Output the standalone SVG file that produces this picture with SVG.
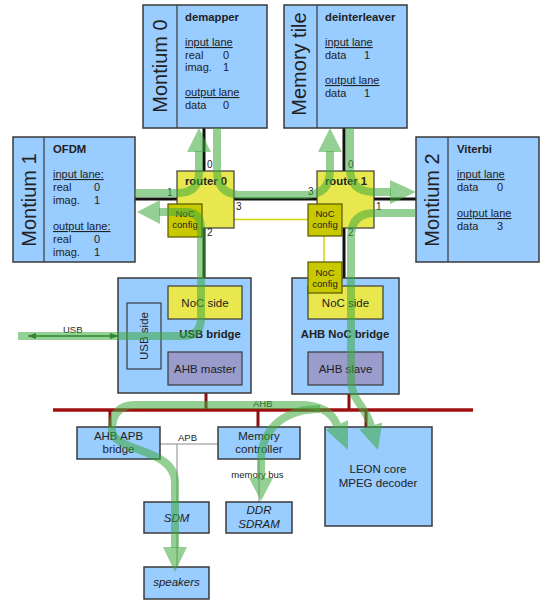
<svg xmlns="http://www.w3.org/2000/svg" width="550" height="607" viewBox="0 0 550 607">
<style>
.box{fill:#99ccff;stroke:#3a3a3a;stroke-width:1.5}
.div{stroke:#3a3a3a;stroke-width:1.2}
.yel{fill:#e8e84e;stroke:#3a3a3a;stroke-width:1.2}
.cfg{fill:#c9c900;stroke:#555500;stroke-width:1.2}
.ahb{fill:#9a9ccc;stroke:#3a3a3a;stroke-width:1.2}
.usbs{fill:none;stroke:#3a3a3a;stroke-width:1.2}
text{font-family:"Liberation Sans",Arial,sans-serif;fill:#222}
.big{font-size:20px;text-anchor:middle}
.h{font-size:11.3px;font-weight:bold}
.t{font-size:11px}
.u{text-decoration:underline}
.m{font-size:11.5px;text-anchor:middle}
.s{font-size:9.5px}
.p{font-size:10px}
.c{text-anchor:middle}
.i{font-style:italic}
.noc{stroke:#111;stroke-width:3;fill:none}
.bus{stroke:#a01010;stroke-width:3.5;fill:none}
.stub{stroke:#8a1010;stroke-width:3;fill:none}
.thin{stroke:#8a8a8a;stroke-width:1;fill:none}
.cfgl{stroke:#d4d400;stroke-width:1.5;fill:none}
.usb{stroke:#1f5a1f;stroke-width:1.5;fill:none}
.flow{fill:none;stroke:#3caa3c;stroke-opacity:0.55;stroke-width:8}
.head{fill:#3caa3c;fill-opacity:0.55}
</style>
<defs>
<marker id="ua" viewBox="0 0 10 10" refX="10" refY="5" markerWidth="8" markerHeight="6" markerUnits="userSpaceOnUse" orient="auto-start-reverse" preserveAspectRatio="none">
<path d="M0,0 L10,5 L0,10 z" fill="#1f5a1f"/>
</marker>
</defs>

<g id="connectors">
<line class="noc" x1="204" y1="128" x2="204" y2="171"/>
<line class="noc" x1="204" y1="228" x2="204" y2="286"/>
<line class="noc" x1="344" y1="128" x2="344" y2="171"/>
<line class="noc" x1="344" y1="228" x2="344" y2="286"/>
<line class="noc" x1="135" y1="199" x2="177" y2="199"/>
<line class="noc" x1="234" y1="199" x2="317" y2="199"/>
<line class="noc" x1="374" y1="199" x2="416" y2="199"/>
<line class="cfgl" x1="202" y1="219.5" x2="308" y2="219.5"/>
<line class="cfgl" x1="324" y1="236" x2="324" y2="262"/>
<line class="bus" x1="53" y1="410" x2="473" y2="410"/>
<line class="stub" x1="206" y1="393" x2="206" y2="410"/>
<line class="stub" x1="349" y1="394" x2="349" y2="410"/>
<line class="stub" x1="110" y1="410" x2="110" y2="427"/>
<line class="stub" x1="258" y1="410" x2="258" y2="427"/>
<line class="stub" x1="366" y1="410" x2="366" y2="427"/>
<text class="s" x="253" y="407">AHB</text>
<polyline class="thin" points="160,444 218,444"/>
<line class="thin" x1="177" y1="444" x2="177" y2="502"/>
<line class="thin" x1="177" y1="533" x2="177" y2="567" stroke="#555"/>
<text class="s" x="178" y="441">APB</text>
<line class="thin" x1="259" y1="459" x2="259" y2="502" stroke="#666"/>
<text class="s c" x="257.5" y="478">memory bus</text>
<line class="usb" x1="28" y1="336" x2="118" y2="336" marker-start="url(#ua)" marker-end="url(#ua)"/>
<text class="s" x="63" y="333">USB</text>
</g>

<g id="montium0">
<rect class="box" x="143" y="5" width="124" height="123"/>
<line class="div" x1="177" y1="5" x2="177" y2="128"/>
<text class="big" transform="translate(167,66) rotate(-90)">Montium 0</text>
<text class="h" x="185" y="21">demapper</text>
<text class="t u" x="185" y="46">input lane</text>
<text class="t" x="185" y="58.5">real</text><text class="t" x="223" y="58.5">0</text>
<text class="t" x="185" y="71">imag.</text><text class="t" x="223" y="71">1</text>
<text class="t u" x="185" y="96">output lane</text>
<text class="t" x="185" y="108.5">data</text><text class="t" x="223" y="108.5">0</text>
</g>

<g id="memorytile">
<rect class="box" x="284" y="5" width="123" height="123"/>
<line class="div" x1="317" y1="5" x2="317" y2="128"/>
<text class="big" transform="translate(306,64) rotate(-90)">Memory tile</text>
<text class="h" x="325" y="21">deinterleaver</text>
<text class="t u" x="325" y="46">input lane</text>
<text class="t" x="325" y="58.5">data</text><text class="t" x="364" y="58.5">1</text>
<text class="t u" x="325" y="84">output lane</text>
<text class="t" x="325" y="96.5">data</text><text class="t" x="364" y="96.5">1</text>
</g>

<g id="montium1">
<rect class="box" x="13" y="137" width="122" height="125"/>
<line class="div" x1="44" y1="137" x2="44" y2="262"/>
<text class="big" transform="translate(36,200) rotate(-90)">Montium 1</text>
<text class="h" x="53" y="152.5">OFDM</text>
<text class="t u" x="53" y="178">input lane:</text>
<text class="t" x="53" y="191">real</text><text class="t" x="94" y="191">0</text>
<text class="t" x="53" y="204">imag.</text><text class="t" x="94" y="204">1</text>
<text class="t u" x="53" y="230">output lane:</text>
<text class="t" x="53" y="243">real</text><text class="t" x="94" y="243">0</text>
<text class="t" x="53" y="256">imag.</text><text class="t" x="94" y="256">1</text>
</g>

<g id="montium2">
<rect class="box" x="416" y="137" width="123" height="125"/>
<line class="div" x1="448" y1="137" x2="448" y2="262"/>
<text class="big" transform="translate(439,200) rotate(-90)">Montium 2</text>
<text class="h" x="457" y="152.5">Viterbi</text>
<text class="t u" x="457" y="178">input lane</text>
<text class="t" x="457" y="191">data</text><text class="t" x="497" y="191">0</text>
<text class="t u" x="457" y="217">output lane</text>
<text class="t" x="457" y="230">data</text><text class="t" x="497" y="230">3</text>
</g>

<g id="router0">
<rect class="yel" x="177" y="171" width="57" height="57"/>
<text class="h c" x="206" y="185">router 0</text>
<text class="p" x="207" y="168">0</text>
<text class="p" x="167" y="195.5">1</text>
<text class="p" x="236" y="210">3</text>
<text class="p" x="207" y="236">2</text>
</g>
<g id="noccfg0">
<rect class="cfg" x="168" y="204" width="34" height="33"/>
<text class="s c" x="185" y="217">NoC</text>
<text class="s c" x="185" y="228">config</text>
</g>

<g id="router1">
<rect class="yel" x="317" y="171" width="57" height="57"/>
<text class="h c" x="346" y="185">router 1</text>
<text class="p" x="348" y="168">0</text>
<text class="p" x="308" y="195">3</text>
<text class="p" x="376" y="210">1</text>
<text class="p" x="348" y="236">2</text>
</g>
<g id="noccfg1">
<rect class="cfg" x="308" y="204" width="34" height="32"/>
<text class="s c" x="325" y="217">NoC</text>
<text class="s c" x="325" y="228">config</text>
</g>

<g id="usbbridge">
<rect class="box" x="118" y="278" width="133" height="115"/>
<rect class="yel" x="168" y="286" width="74" height="33"/>
<text class="m" x="205" y="306.5">NoC side</text>
<rect class="usbs" x="127" y="303" width="34" height="66"/>
<text class="m" transform="translate(148,336) rotate(-90)">USB side</text>
<text class="h c" x="210" y="338">USB bridge</text>
<rect class="ahb" x="168" y="352" width="74" height="33"/>
<text class="m" x="205" y="372.5">AHB master</text>
</g>

<g id="ahbnocbridge">
<rect class="box" x="292" y="278" width="107" height="116"/>
<rect class="yel" x="308" y="286" width="75" height="33"/>
<text class="m" x="345.5" y="306.5">NoC side</text>
<text class="h c" x="345" y="338">AHB NoC bridge</text>
<rect class="ahb" x="308" y="352" width="75" height="33"/>
<text class="m" x="345.5" y="372.5">AHB slave</text>
</g>

<g id="noccfg2">
<rect class="cfg" x="308" y="262" width="34" height="31"/>
<text class="s c" x="325" y="276">NoC</text>
<text class="s c" x="325" y="287">config</text>
</g>

<g id="ahbapbbridge">
<rect class="box" x="77" y="427" width="83" height="32"/>
<text class="m" x="118.5" y="440">AHB APB</text>
<text class="m" x="118.5" y="452.5">bridge</text>
</g>
<g id="memctrl">
<rect class="box" x="218" y="427" width="82" height="32"/>
<text class="m" x="259" y="440">Memory</text>
<text class="m" x="259" y="452.5">controller</text>
</g>
<g id="leon">
<rect class="box" x="325" y="427" width="107" height="99"/>
<text class="m" x="378" y="473">LEON core</text>
<text class="m" x="378" y="486.5">MPEG decoder</text>
</g>
<g id="sdm">
<rect class="box" x="144" y="502" width="65" height="31"/>
<text class="m i" x="176.5" y="521.5">SDM</text>
</g>
<g id="ddr">
<rect class="box" x="226" y="502" width="66" height="31"/>
<text class="m i" x="259" y="514">DDR</text>
<text class="m i" x="259" y="527.5">SDRAM</text>
</g>
<g id="speakers">
<rect class="box" x="144" y="567" width="65" height="32"/>
<text class="m i" x="176.5" y="586">speakers</text>
</g>

<g id="flows">
<path class="flow" d="M18 336 H183 Q201 336 201 318 V228 Q201 212 185 212 H159"/>
<polygon class="head" points="160,200 137,212 160,224"/>
<path class="flow" d="M135 193 H178 Q199 193 199 172 V151"/>
<polygon class="head" points="187,152 199,128 211,152"/>
<path class="flow" d="M217 128 V170 Q217 195 242 195 H305 Q330 195 330 170 V151"/>
<polygon class="head" points="318,152 330,128 342,152"/>
<path class="flow" d="M350 128 V168 Q350 192 374 192 H391"/>
<polygon class="head" points="390,180 416,192 390,204"/>
<path class="flow" d="M416 213 H375 Q351 213 351 237 V380 C351 400 365 405 371 426"/>
<polygon class="head" points="382.3,422.6 378,450 359.3,429.4"/>
<path class="flow" d="M337 425 C332 412 320 405 300 405 H135 Q112 405 112 430 C112 452 175 448 175 482 V548"/>
<polygon class="head" points="348,420.2 348,450 326,429.8"/>
<polygon class="head" points="163,547 175,572 187,547"/>
<path class="flow" d="M320 409 C288 409 262 425 261 460 V479"/>
<polygon class="head" points="249,478 261,501 273,478"/>
</g>
</svg>
